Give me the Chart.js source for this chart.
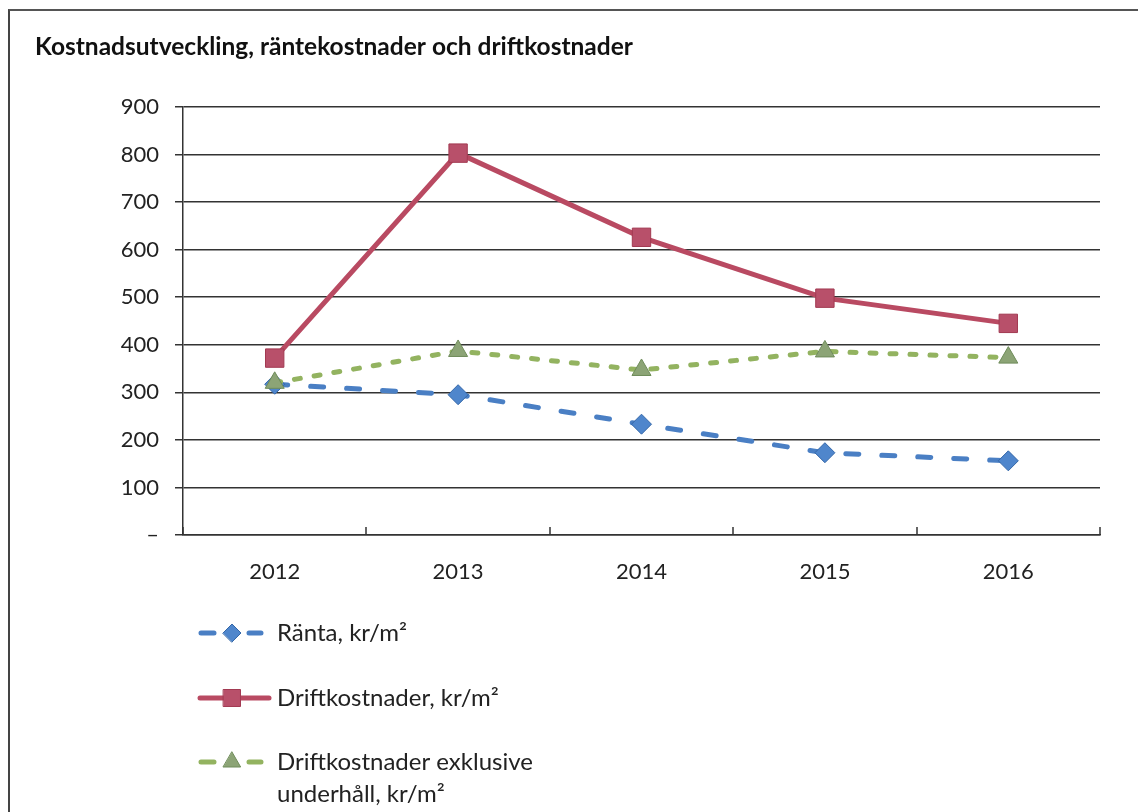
<!DOCTYPE html>
<html>
<head>
<meta charset="utf-8">
<title>Kostnadsutveckling</title>
<script src="https://cdn.jsdelivr.net/npm/chart.js@4/dist/chart.umd.min.js"></script>
<style>
	html, body { margin: 0; padding: 0; background: #fff; }
	#wrap { position: relative; width: 1138px; height: 812px; overflow: hidden; }
	#frame { position: absolute; left: 8px; top: 9px; width: 1200px; height: 900px; border-left: 2px solid #444; border-top: 2px solid #555; }
	#chart { position: absolute; left: 0; top: 0; }
</style>
</head>
<body>
<div id="wrap">
	<div id="frame"></div>
	<canvas id="chart" width="1138" height="812"></canvas>
</div>
<script>
var chartTitle = 'Kostnadsutveckling, räntekostnader och driftkostnader';
var years = [ '2012', '2013', '2014', '2015', '2016' ];
var ranta = [ 317, 295, 233, 173, 156 ];
var drift = [ 372, 803, 626, 498, 445 ];
var driftExkl = [ 320, 387, 347, 386, 373 ];
var yMin = 0;
var yMax = 900;
var yStep = 100;
var seriesNames = [
	[ 'Ränta, kr/m²' ],
	[ 'Driftkostnader, kr/m²' ],
	[ 'Driftkostnader exklusive', 'underhåll, kr/m²' ]
];

( function() {

	var fontFamily = "Lato, 'Open Sans', sans-serif";
	var textColor = '#222';

	/**
	 * Title, small x tick marks and the legend.
	 */
	var extras = {
		id: 'extras',
		afterDraw: function( chart ) {
			var ctx = chart.ctx;
			var area = chart.chartArea;
			var x = chart.scales.x;

			ctx.save();

			// title
			ctx.fillStyle = '#111';
			ctx.font = 'bold 24.5px ' + fontFamily;
			ctx.textBaseline = 'middle';
			ctx.textAlign = 'left';
			ctx.fillText( chartTitle, 35, 47 );

			// tick marks between categories
			ctx.strokeStyle = '#333';
			ctx.lineWidth = 1.5;
			for ( var i = 0; i <= years.length; i++ ) {
				var px = Math.round( x.getPixelForValue( i - 0.5 ) );
				ctx.beginPath();
				ctx.moveTo( px, area.bottom );
				ctx.lineTo( px, area.bottom - 8 );
				ctx.stroke();
			}

			// legend
			var rows = [ 633, 698, 762 ];
			chart.data.datasets.forEach( function( ds, d ) {
				var y = rows[d];
				var mx = 232;

				ctx.strokeStyle = ds.borderColor;
				ctx.lineWidth = ds.borderWidth;
				ctx.lineCap = 'round';
				ctx.setLineDash( [] );
				ctx.beginPath();
				if ( ds.borderDash.length ) {
					ctx.moveTo( 201, y );
					ctx.lineTo( 214, y );
					ctx.moveTo( 249, y );
					ctx.lineTo( 261, y );
				} else {
					ctx.moveTo( 200, y );
					ctx.lineTo( 269, y );
				}
				ctx.stroke();

				ctx.fillStyle = ds.pointBackgroundColor;
				ctx.strokeStyle = ds.pointBorderColor;
				ctx.lineWidth = 1;
				Chart.helpers.drawPoint( ctx, {
					pointStyle: ds.pointStyle,
					radius: ds.legendRadius,
					rotation: 0,
					borderWidth: 1
				}, mx, y );

				ctx.fillStyle = textColor;
				ctx.font = '24px ' + fontFamily;
				seriesNames[d].forEach( function( line, l ) {
					ctx.fillText( line, 277, y + l * 32 );
				} );
			} );

			ctx.restore();
		}
	};

	var config = {
		type: 'line',
		data: {
			labels: years,
			datasets: [
				{
					label: seriesNames[0].join( ' ' ),
					data: ranta,
					order: 2,
					borderColor: '#4a7fc4',
					borderWidth: 5,
					borderDash: [ 13, 23 ],
					borderCapStyle: 'round',
					pointStyle: 'rectRot',
					pointRadius: 10,
					legendRadius: 9,
					pointBackgroundColor: '#4f86cc',
					pointBorderColor: '#3467a8',
					pointBorderWidth: 1
				},
				{
					label: seriesNames[1].join( ' ' ),
					data: drift,
					order: 0,
					borderColor: '#b94a62',
					borderWidth: 5,
					borderDash: [],
					pointStyle: 'rect',
					pointRadius: 13,
					legendRadius: 12,
					pointBackgroundColor: '#b8506a',
					pointBorderColor: '#a23a52',
					pointBorderWidth: 1
				},
				{
					label: seriesNames[2].join( ' ' ),
					data: driftExkl,
					order: 1,
					borderColor: '#93b360',
					borderWidth: 5,
					borderDash: [ 6, 14 ],
					borderCapStyle: 'round',
					pointStyle: 'triangle',
					pointRadius: 11,
					legendRadius: 10,
					pointBackgroundColor: '#8ca476',
					pointBorderColor: '#6f8c5a',
					pointBorderWidth: 1
				}
			]
		},
		options: {
			responsive: false,
			devicePixelRatio: 1,
			animation: false,
			layout: {
				padding: { top: 107, left: 0, right: 38, bottom: 217 }
			},
			plugins: {
				legend: { display: false },
				title: { display: false },
				tooltip: { enabled: false }
			},
			elements: {
				line: { tension: 0 }
			},
			scales: {
				x: {
					offset: true,
					afterFit: function( scale ) {
						scale.height = 60;
					},
					grid: { display: false, drawTicks: false },
					border: { display: true, color: '#333', width: 1.5 },
					ticks: {
						padding: 24,
						color: textColor,
						font: { family: fontFamily, size: 22 }
					}
				},
				y: {
					min: yMin,
					max: yMax,
					afterFit: function( scale ) {
						scale.width = 183;
					},
					grid: {
						color: '#333',
						lineWidth: 1.5,
						tickLength: 8,
						drawTicks: true
					},
					border: { display: true, color: '#333', width: 1.5 },
					ticks: {
						stepSize: yStep,
						padding: 16,
						color: textColor,
						font: { family: fontFamily, size: 22 },
						callback: function( value ) {
							return value === 0 ? '–' : value;
						}
					}
				}
			}
		},
		plugins: [ extras ]
	};

	window.costChart = new Chart( document.getElementById( 'chart' ).getContext( '2d' ), config );

} )();
</script>
</body>
</html>
